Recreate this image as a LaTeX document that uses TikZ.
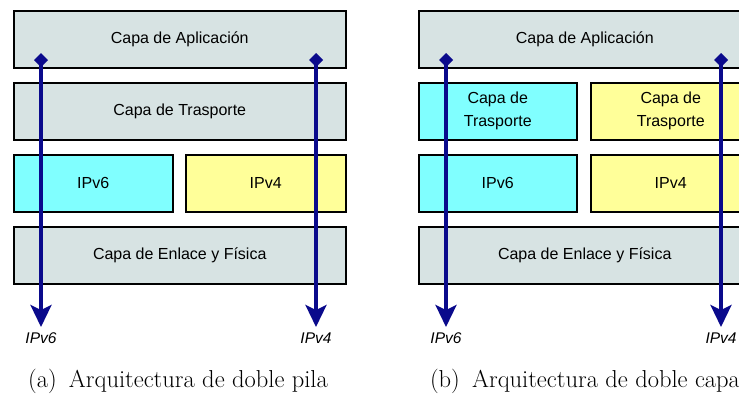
\documentclass[tikz,border=0pt]{standalone}
\usepackage{fontspec}
\setsansfont{Liberation Sans}
\usetikzlibrary{arrows.meta}
\definecolor{layergray}{HTML}{D7E3E3}
\definecolor{layercyan}{HTML}{80FFFF}
\definecolor{layeryellow}{HTML}{FFFF99}
\definecolor{flowblue}{HTML}{0A0A8C}
\begin{document}
\begin{tikzpicture}[x=1pt,y=-1pt,
  layer/.style={draw=black, line width=1.5pt, inner sep=0pt, anchor=north west,
    font=\sffamily\fontsize{16}{23}\selectfont, align=center, minimum height=57pt},
  wide/.style={layer, fill=layergray, minimum width=332pt},
  half/.style={layer, minimum width=159pt},
  flow/.style={draw=flowblue, line width=3.6pt,
    {Diamond[length=14pt,width=14pt]}-{Stealth[length=22pt,width=21pt,inset=5pt]}},
  flowlbl/.style={font=\sffamily\itshape\fontsize{15.5}{18}\selectfont, inner sep=0pt},
  caption/.style={font=\fontsize{24.5}{28}\selectfont, inner sep=0pt}]
\useasboundingbox (0,0) rectangle (739,394);
\clip (0,0) rectangle (739,394);
% ---- panel (a)
\node[wide] (app1) at (13,10) {Capa de Aplicación};
\node[wide] (tr1) at (13,82) {Capa de Trasporte};
\node[half, fill=layercyan] (v6a) at (13,154) {IPv6};
\node[half, fill=layeryellow, minimum width=160pt] (v4a) at (185,154) {IPv4};
\node[wide] (enl1) at (13,226) {Capa de Enlace y Física};
\coordinate (sa1) at (41,53);
\coordinate (ea1) at (41,327);
\coordinate (sa2) at (316,53);
\coordinate (ea2) at (316,327);
\draw[flow] (sa1) -- (ea1);
\draw[flow] (sa2) -- (ea2);
\node[flowlbl] (la1) at (41,338) {IPv6};
\node[flowlbl] (la2) at (316,338) {IPv4};
\node[caption] (capa) at (178,381) {(a)\enspace Arquitectura de doble pila};
% ---- panel (b)
\node[wide] (app2) at (418,10) {Capa de Aplicación};
\node[half, fill=layercyan, minimum width=158pt] (tr6) at (418,82) {Capa de\\Trasporte};
\node[half, fill=layeryellow, minimum width=160pt] (tr4) at (590,82) {Capa de\\Trasporte};
\node[half, fill=layercyan, minimum width=158pt] (v6b) at (418,154) {IPv6};
\node[half, fill=layeryellow, minimum width=160pt] (v4b) at (590,154) {IPv4};
\node[wide] (enl2) at (418,226) {Capa de Enlace y Física};
\coordinate (sb1) at (446,53);
\coordinate (eb1) at (446,327);
\coordinate (sb2) at (721,53);
\coordinate (eb2) at (721,327);
\draw[flow] (sb1) -- (eb1);
\draw[flow] (sb2) -- (eb2);
\node[flowlbl] (lb1) at (446,338) {IPv6};
\node[flowlbl] (lb2) at (721,338) {IPv4};
\node[caption] (capb) at (585,381) {(b)\enspace Arquitectura de doble capa};
\end{tikzpicture}
\end{document}
